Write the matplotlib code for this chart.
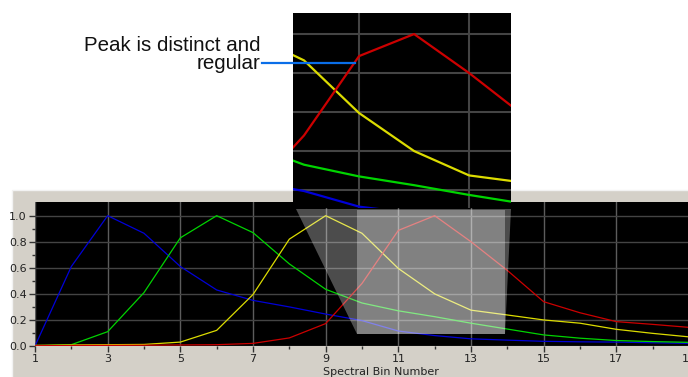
import matplotlib.pyplot as plt
from matplotlib.patches import Rectangle, Polygon
from matplotlib.lines import Line2D

# spectral bins and the four normalised channel responses
bins = list(range(1, 20))
blue = [0.0, 0.61, 1.0, 0.865, 0.61, 0.43, 0.35, 0.30, 0.245, 0.195,
        0.115, 0.08, 0.055, 0.045, 0.036, 0.032, 0.03, 0.025, 0.02]
green = [0.0, 0.01, 0.11, 0.41, 0.83, 1.0, 0.87, 0.63, 0.435, 0.33,
         0.27, 0.225, 0.175, 0.13, 0.085, 0.06, 0.042, 0.034, 0.028]
yellow = [0.005, 0.008, 0.01, 0.012, 0.03, 0.12, 0.395, 0.82, 1.0, 0.865,
          0.595, 0.40, 0.275, 0.238, 0.20, 0.175, 0.128, 0.097, 0.07]
red = [0.002, 0.004, 0.005, 0.006, 0.008, 0.01, 0.02, 0.062, 0.172, 0.48,
       0.887, 1.0, 0.80, 0.58, 0.34, 0.255, 0.187, 0.166, 0.143]

series = [(blue, '#0000d8'), (green, '#00d400'), (yellow, '#dcdc00'), (red, '#cc0000')]

xticks = [1, 3, 5, 7, 9, 11, 13, 15, 17, 19]
yticks = [0.0, 0.2, 0.4, 0.6, 0.8, 1.0]

# magnified region
lens_x = (9.86, 13.94)
lens_y = (0.09, 1.045)
zoom_x = (9.8, 13.76)
zoom_y = (0.108, 1.108)

W, H = 688, 377
fig = plt.figure(figsize=(W / 100, H / 100), dpi=100)
fig.patch.set_facecolor('white')


def box(l, t, r, b):
    return [l / W, 1 - b / H, (r - l) / W, (b - t) / H]


# grey window panel behind the chart
fig.add_artist(Rectangle((12 / W, -0.01), 1, (377 - 190) / H + 0.01,
                         transform=fig.transFigure, facecolor='#d4d0c8',
                         edgecolor='#f2f2f2', lw=1, zorder=-1))

ax = fig.add_axes(box(35, 202, 689, 346))
ax.set_facecolor('black')
for x in xticks:
    ax.axvline(x, color='#5c5c5c', lw=1, zorder=1)
for y in yticks:
    ax.axhline(y, color='#444444', lw=1, zorder=1)
for vals, c in series:
    ax.plot(bins, vals, color=c, lw=0.9, zorder=2)
ax.set_xlim(1, 19)
ax.set_ylim(0, 1.105)
ax.set_xticks(xticks)
ax.set_xticks(range(2, 19, 2), minor=True)
ax.set_yticks(yticks)
ax.set_yticks([0.1, 0.3, 0.5, 0.7, 0.9], minor=True)
ax.set_yticklabels(['%.1f' % v for v in yticks])
ax.tick_params(which='major', length=4, width=1, color='#333333',
               labelsize=8, labelcolor='#222222', pad=2)
ax.tick_params(which='minor', length=2, width=1, color='#333333')
for s in ax.spines.values():
    s.set_visible(False)
ax.add_patch(Rectangle((lens_x[0], lens_y[0]), lens_x[1] - lens_x[0],
                       lens_y[1] - lens_y[0], facecolor='white', alpha=0.3,
                       lw=0, zorder=5))

fig.text(381 / W, 1 - 372 / H, 'Spectral Bin Number', ha='center', va='center',
         fontsize=8, color='#222222')

# funnel from the lens to the magnified view
trap = [(296, 209), (511, 209), (505, 334), (357, 334)]
fig.add_artist(Polygon([(px / W, 1 - py / H) for px, py in trap],
                       transform=fig.transFigure, facecolor='white',
                       alpha=0.3, lw=0, zorder=3))

# magnified view
ax2 = fig.add_axes(box(293, 13, 511, 208), zorder=4)
ax2.set_facecolor('black')
for x in xticks:
    ax2.axvline(x, color='#444444', lw=1.5, zorder=1)
for y in yticks:
    ax2.axhline(y, color='#444444', lw=1.5, zorder=1)
for vals, c in series:
    ax2.plot(bins, vals, color=c, lw=1.6, zorder=2)
ax2.set_xlim(*zoom_x)
ax2.set_ylim(*zoom_y)
ax2.set_xticks([])
ax2.set_yticks([])
for s in ax2.spines.values():
    s.set_visible(False)

# annotation
fig.text(260 / W, 1 - 36 / H, 'Peak is distinct and\nregular', ha='right',
         va='top', multialignment='right', linespacing=0.95,
         fontsize=14.8, family='Liberation Sans', color='#111111')
fig.add_artist(Line2D([262 / W, 355 / W], [1 - 63 / H, 1 - 63 / H],
                      transform=fig.transFigure, color='#0a6ee8', lw=1.6,
                      zorder=6))

fig.savefig('out.png', dpi=100)
